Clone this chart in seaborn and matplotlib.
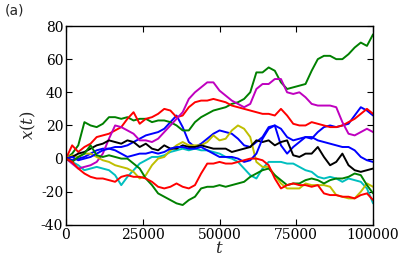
import numpy as np
import pandas as pd
import matplotlib
matplotlib.use("Agg")
import matplotlib.pyplot as plt
import seaborn as sns

# time grid, one value every 2000 steps
t = np.arange(0, 100001, 2000)

# walks (x(t) values at each t)
blue_a = [0, -1, 0, 1, 3, 5, 6, 6, 7, 7, 8, 10, 12, 14, 15, 16, 18, 22, 26, 19,
          10, 7, 9, 12, 15, 17, 16, 15, 12, 8, 7, 10, 13, 19, 20, 8, 3, 7, 10, 13,
          12, 16, 19, 20, 19, 20, 21, 26, 31, 29, 26]
green_a = [0, 3, 8, 22, 20, 19, 21, 25, 25, 24, 25, 23, 24, 24, 22, 23, 23, 22, 20, 17,
           17, 22, 25, 27, 29, 30, 31, 33, 34, 36, 40, 52, 52, 55, 53, 46, 42, 43, 44, 45,
           53, 60, 62, 62, 60, 60, 63, 67, 70, 68, 75]
red_a = [0, 8, 4, 7, 9, 13, 14, 15, 17, 19, 24, 28, 21, 24, 25, 27, 30, 29, 25, 26,
         31, 34, 35, 35, 36, 35, 34, 32, 31, 30, 29, 28, 27, 27, 26, 30, 26, 21, 20, 20,
         22, 21, 20, 19, 19, 20, 22, 24, 27, 30, 27]
cyan = [0, -2, -4, -7, -6, -5, -6, -7, -10, -16, -11, -7, -3, -1, 1, 1, 2, 4, 5, 6,
        5, 6, 5, 5, 4, 3, 1, 0, -2, -6, -10, -12, -6, -2, -2, -2, -3, -3, -5, -7,
        -8, -11, -12, -11, -12, -14, -12, -13, -14, -18, -27]
magenta = [0, -3, -6, -5, -4, -2, 3, 12, 20, 19, 17, 15, 11, 11, 10, 12, 16, 20, 24, 28,
           36, 40, 43, 46, 46, 41, 38, 35, 33, 31, 33, 42, 45, 45, 48, 48, 40, 39, 40, 37,
           33, 32, 32, 32, 31, 22, 15, 14, 16, 18, 16]
yellow = [0, 2, 1, 3, 3, 1, -1, -2, -4, -5, -6, -8, -12, -10, -4, 0, 1, 5, 8, 10,
          8, 8, 8, 10, 14, 11, 12, 17, 20, 18, 13, -2, -5, -5, -10, -15, -18, -18, -18, -15,
          -16, -16, -16, -17, -22, -23, -24, -24, -20, -15, -17]
black = [0, 1, 3, 4, 6, 8, 9, 11, 10, 9, 11, 10, 7, 9, 6, 5, 8, 6, 6, 8,
         7, 7, 8, 7, 6, 6, 6, 4, 5, 6, 7, 11, 10, 11, 8, 10, 11, 2, 1, 3,
         3, 7, 1, -4, -2, 3, -4, -7, -8, -7, -6]
blue_b = [0, 1, -1, 0, 1, 3, 5, 6, 5, 3, 1, 2, 3, 3, 4, 3, 4, 6, 7, 7,
          6, 6, 7, 5, 3, 1, 1, 1, 0, -2, -1, 3, 12, 18, 20, 18, 13, 11, 12, 13,
          13, 11, 10, 9, 8, 7, 7, 5, 1, -1, -2]
green_b = [0, -2, 1, 3, 8, 2, 1, 2, 1, 0, 0, -3, -6, -12, -16, -21, -23, -25, -27, -28,
           -25, -23, -18, -17, -17, -16, -17, -16, -15, -14, -11, -9, -7, -6, -10, -13, -16, -15, -15, -13,
           -12, -13, -15, -13, -12, -12, -11, -9, -10, -16, -21]
red_b = [0, -2, -6, -9, -11, -12, -12, -13, -14, -11, -10, -11, -11, -12, -14, -17, -18, -17, -15, -17,
         -18, -16, -9, -3, -3, -2, -3, -3, -2, -1, 0, 0, -1, -4, -12, -18, -16, -15, -16, -16,
         -17, -16, -21, -22, -22, -23, -23, -24, -22, -21, -25]

walks = [blue_a, green_a, red_a, cyan, magenta, yellow, black, blue_b, green_b, red_b]
colors = ["b", "g", "r", "c", "m", "y", "k", "b", "g", "r"]

rows = []
for i, w in enumerate(walks):
    for tt, v in zip(t, w):
        rows.append({"t": tt, "x": v, "walk": i})
df = pd.DataFrame(rows)

sns.set_style("ticks", {"xtick.direction": "in", "ytick.direction": "in"})
plt.rcParams["font.family"] = ["DejaVu Serif"]
plt.rcParams["mathtext.fontset"] = "dejavuserif"
plt.rcParams["axes.unicode_minus"] = False

fig = plt.figure(figsize=(4.15, 2.6), dpi=100)
ax = fig.add_axes([0.159, 0.135, 0.740, 0.765])

sns.lineplot(data=df, x="t", y="x", hue="walk", palette=colors, estimator=None,
             linewidth=1.4, legend=False, ax=ax)

ax.set_xlim(0, 100000)
ax.set_ylim(-40, 80)
ax.set_xticks([0, 25000, 50000, 75000, 100000])
ax.set_yticks([-40, -20, 0, 20, 40, 60, 80])
ax.ticklabel_format(axis="x", style="plain")
ax.tick_params(direction="in", length=4, width=0.8, top=True, right=True, labelsize=10,
               colors="black", pad=2)
for s in ax.spines.values():
    s.set_visible(True)
    s.set_color("black")
    s.set_linewidth(1.0)

ax.set_xlabel(r"$t$", fontsize=12, labelpad=-1)
ax.set_ylabel(r"$x(t)$", fontsize=12, labelpad=2)
fig.text(0.012, 0.985, "(a)", fontsize=10, family="DejaVu Sans", va="top", ha="left")

fig.savefig("out.png", dpi=100)
